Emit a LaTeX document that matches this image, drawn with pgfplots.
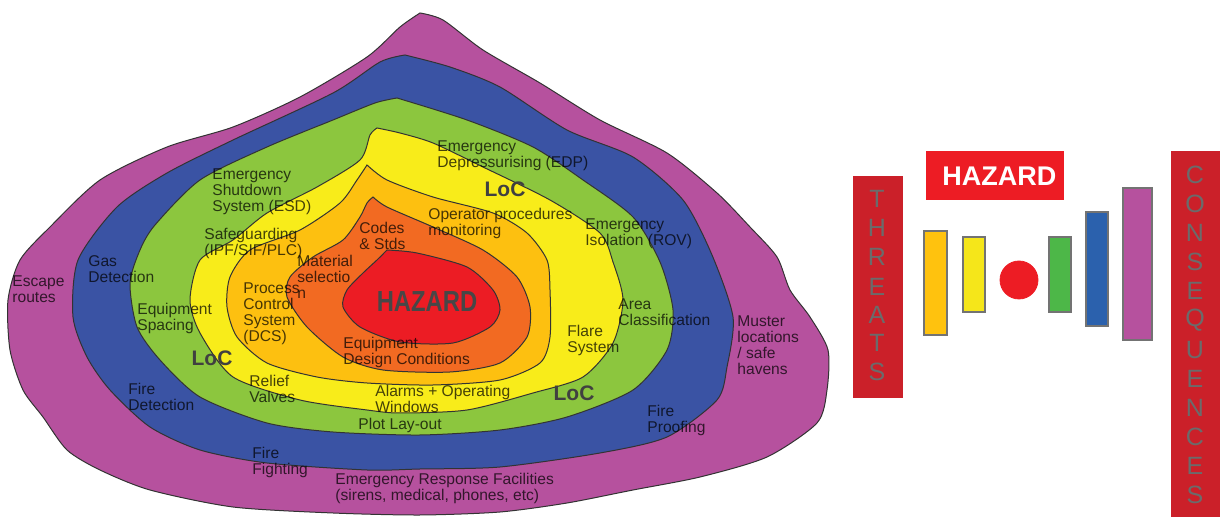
\documentclass[border=0pt]{standalone}
\usepackage{pgfplots}
\pgfplotsset{compat=1.18}
\usepackage{fontspec}
\setmainfont{Liberation Sans}
\definecolor{cpurple}{HTML}{B6519E}
\definecolor{cblue}{HTML}{3A53A4}
\definecolor{cgreen}{HTML}{8CC63E}
\definecolor{cyellow}{HTML}{F8EC1A}
\definecolor{camber}{HTML}{FDC010}
\definecolor{corange}{HTML}{F26A22}
\definecolor{cred}{HTML}{EC1C24}
\definecolor{bamber}{HTML}{FFC20E}
\definecolor{byellow}{HTML}{F5E61A}
\definecolor{bgreen}{HTML}{4DB748}
\definecolor{bblue}{HTML}{2B61AD}
\definecolor{boxred}{HTML}{CB2029}
\definecolor{hazred}{HTML}{ED1C24}
\definecolor{lettergray}{HTML}{6B6B6B}
\tikzset{
  lbl/.style={anchor=north west, inner sep=0pt, align=left, font=\fontsize{7.8}{8}\selectfont, text=black, text opacity=0.72},
  loc/.style={inner sep=0pt, font=\bfseries\fontsize{10.5}{11}\selectfont, text=black!75},
  let/.style={inner sep=0pt, font=\fontsize{12.5}{13}\selectfont, text=lettergray},
}
\begin{document}
\begin{tikzpicture}
\begin{axis}[name=ax, scale only axis, width=610pt, height=258.5pt,
  xmin=0, xmax=1220, ymin=0, ymax=517, y dir=reverse,
  axis lines=none, ticks=none, clip=false]
% layers
\addplot[smooth, tension=0.45, fill=cpurple, draw=black!80, line width=0.5pt] coordinates {
(420,13) (443,20) (483,50) (540,83) (600,120) (667,153) (717,193) (750,227) (777,257) (790,290) (810,317) (828,350) (827,390) (817,423) (767,457) (700,477) (633,490) (567,503) (500,512) (420,515) (333,513) (233,507) (150,490) (100,470) (67,450) (43,417) (23,390) (10,350) (8,300) (20,260) (50,227) (100,180) (167,147) (233,127) (300,97) (367,57) (400,27) (420,13)} -- cycle;
\addplot[smooth, tension=0.45, fill=cblue, draw=black!80, line width=0.5pt] coordinates {
(405,55) (450,67) (500,87) (567,130) (633,157) (683,200) (712,255) (733,317) (727,367) (717,400) (667,437) (600,453) (500,467) (420,469) (367,470) (267,463) (200,450) (150,427) (110,390) (87,357) (73,317) (78,260) (117,207) (167,173) (233,140) (333,93) (380,62) (405,55)} -- cycle;
\addplot[smooth, tension=0.45, fill=cgreen, draw=black!80, line width=0.5pt] coordinates {
(397,98) (467,120) (533,147) (583,180) (633,217) (660,262) (673,310) (667,350) (633,390) (567,417) (500,430) (420,435) (333,432) (267,423) (200,397) (160,360) (137,327) (130,283) (140,250) (155,225) (200,180) (267,147) (333,120) (375,103) (397,98)} -- cycle;
\addplot[smooth, tension=0.45, fill=cyellow, draw=black!80, line width=0.5pt] coordinates {
(377,128) (400,133) (433,143) (483,167) (550,200) (600,233) (613,262) (623,300) (613,343) (583,377) (533,393) (467,410) (400,413) (367,410) (300,400) (233,377) (200,333) (190,300) (200,260) (233,240) (267,213) (317,187) (360,160) (370,135) (377,128)} -- cycle;
\addplot[smooth, tension=0.45, fill=camber, draw=black!80, line width=0.5pt] coordinates {
(367,165) (387,180) (433,197) (493,213) (527,233) (547,260) (550,290) (550,337) (540,363) (500,380) (433,385) (367,383) (317,377) (267,363) (237,337) (227,307) (230,277) (250,250) (300,230) (340,203) (357,180) (367,165)} -- cycle;
\addplot[smooth, tension=0.45, fill=corange, draw=black!80, line width=0.5pt] coordinates {
(373,197) (387,207) (433,227) (483,250) (517,277) (530,307) (527,337) (500,363) (450,372) (383,370) (343,357) (307,327) (287,297) (290,277) (313,257) (343,240) (360,217) (367,203) (373,197)} -- cycle;
\addplot[smooth, tension=0.45, fill=cred, draw=black!80, line width=0.5pt] coordinates {
(387,250) (417,253) (467,267) (493,290) (500,310) (490,327) (453,343) (400,342) (360,327) (343,307) (347,290) (363,273) (377,260) (387,250)} -- cycle;
% right side boxes
\addplot[fill=boxred, draw=none] coordinates {(853,176) (903,176) (903,398) (853,398)} -- cycle;
\addplot[fill=boxred, draw=none] coordinates {(1171,151) (1220,151) (1220,517) (1171,517)} -- cycle;
\addplot[fill=hazred, draw=none] coordinates {(926,151) (1064,151) (1064,200) (926,200)} -- cycle;
% bars
\addplot[fill=bamber, draw=black!55, line width=0.6pt] coordinates {(924,231) (947,231) (947,335) (924,335)} -- cycle;
\addplot[fill=byellow, draw=black!55, line width=0.6pt] coordinates {(963,237) (985,237) (985,312) (963,312)} -- cycle;
\addplot[fill=bgreen, draw=black!55, line width=0.6pt] coordinates {(1049,237) (1071,237) (1071,312) (1049,312)} -- cycle;
\addplot[fill=bblue, draw=black!55, line width=0.6pt] coordinates {(1086,212) (1108,212) (1108,326) (1086,326)} -- cycle;
\addplot[fill=cpurple, draw=black!55, line width=0.6pt] coordinates {(1123,188) (1152,188) (1152,340) (1123,340)} -- cycle;
\addplot[only marks, mark=*, mark size=9.5pt, mark options={fill=hazred, draw=hazred}] coordinates {(1019,280)};
% labels in onion
\node[lbl] at (axis cs:212,168) {Emergency\\Shutdown\\System (ESD)};
\node[lbl] at (axis cs:204,228) {Safeguarding\\(IPF/SIF/PLC)};
\node[lbl] at (axis cs:359,222) {Codes\\\& Stds};
\node[lbl] at (axis cs:297,255) {Material\\selectio\\n};
\node[lbl] at (axis cs:88,255) {Gas\\Detection};
\node[lbl] at (axis cs:12,275) {Escape\\routes};
\node[lbl] at (axis cs:137,303) {Equipment\\Spacing};
\node[lbl] at (axis cs:243,282) {Process\\Control\\System\\(DCS)};
\node[lbl] at (axis cs:343,337) {Equipment\\Design Conditions};
\node[lbl] at (axis cs:249,375) {Relief\\Valves};
\node[lbl] at (axis cs:128,383) {Fire\\Detection};
\node[lbl] at (axis cs:375,385) {Alarms + Operating\\Windows};
\node[lbl] at (axis cs:358,418) {Plot Lay-out};
\node[lbl] at (axis cs:252,447) {Fire\\Fighting};
\node[lbl] at (axis cs:335,473) {Emergency Response Facilities\\(sirens, medical, phones, etc)};
\node[lbl] at (axis cs:437,140) {Emergency\\Depressurising (EDP)};
\node[lbl] at (axis cs:428,208) {Operator procedures\\monitoring};
\node[lbl] at (axis cs:585,218) {Emergency\\Isolation (ROV)};
\node[lbl] at (axis cs:618,298) {Area\\Classification};
\node[lbl] at (axis cs:567,325) {Flare\\System};
\node[lbl] at (axis cs:737,315) {Muster\\locations\\/ safe\\havens};
\node[lbl] at (axis cs:647,405) {Fire\\Proofing};
\node[loc] at (axis cs:505,189) {LoC};
\node[loc] at (axis cs:212,358) {LoC};
\node[loc] at (axis cs:574,393) {LoC};
\node[inner sep=0pt, font=\bfseries\fontsize{14.5}{15}\selectfont, text=black!72] at (axis cs:427,302) {\scalebox{0.82}[1]{HAZARD}};
% right side texts
\node[anchor=west, inner sep=0pt, font=\bfseries\fontsize{13.5}{14}\selectfont, text=white] at (axis cs:942,176) {HAZARD};
\node[let] at (axis cs:877,199) {T};
\node[let] at (axis cs:877,228) {H};
\node[let] at (axis cs:877,257) {R};
\node[let] at (axis cs:877,287) {E};
\node[let] at (axis cs:877,315) {A};
\node[let] at (axis cs:877,343) {T};
\node[let] at (axis cs:877,372) {S};
\node[let] at (axis cs:1195,175) {C};
\node[let] at (axis cs:1195,204) {O};
\node[let] at (axis cs:1195,233) {N};
\node[let] at (axis cs:1195,262) {S};
\node[let] at (axis cs:1195,291) {E};
\node[let] at (axis cs:1195,320) {Q};
\node[let] at (axis cs:1195,350) {U};
\node[let] at (axis cs:1195,379) {E};
\node[let] at (axis cs:1195,408) {N};
\node[let] at (axis cs:1195,437) {C};
\node[let] at (axis cs:1195,466) {E};
\node[let] at (axis cs:1195,495) {S};
\end{axis}
\pgfresetboundingbox
\useasboundingbox (ax.south west) rectangle (ax.north east);
\end{tikzpicture}
\end{document}
